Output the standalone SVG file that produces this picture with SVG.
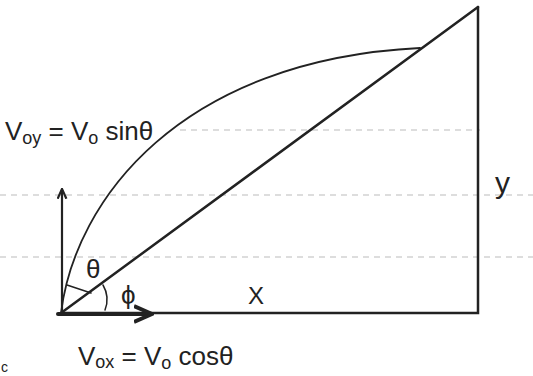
<svg xmlns="http://www.w3.org/2000/svg" width="533" height="376" viewBox="0 0 533 376">
<style>
.t{font-family:"Liberation Sans",Arial,sans-serif;fill:#222}
.ln{stroke:#222;fill:none;stroke-linecap:round}
.rule{stroke:#bbb;stroke-width:1;stroke-dasharray:6 5;fill:none}
</style>
<defs>
<marker id="ah" viewBox="0 0 10 10" refX="8" refY="5" markerWidth="5" markerHeight="5" orient="auto">
<path d="M0,1 L9,5 L0,9" fill="none" stroke="#222" stroke-width="2"/>
</marker>
</defs>
<rect width="533" height="376" fill="#fff"/>
<g id="rules">
<path class="rule" d="M0,195 H533 M0,257 H533"/>
<path class="rule" d="M180,130 H480" stroke-dasharray="3 18"/>
</g>
<g id="connectors">
<path class="ln" stroke-width="2.5" d="M478,7 V313 H61"/>
<path class="ln" stroke-width="2.5" d="M61,313 L478,7"/>
<path class="ln" stroke-width="1.8" d="M61,313 C75,200 180,60 420,48"/>
<path class="ln" stroke-width="2.2" d="M62,313 V190" marker-end="url(#ah)"/>
<path class="ln" stroke-width="4" d="M58,314 H150" marker-end="url(#ah)"/>
<path class="ln" stroke-width="1.5" d="M67,285 L91,293"/>
<path class="ln" stroke-width="1.5" d="M103,285 Q110,297 105,310"/>
</g>
<g id="labels">
<text class="t" x="5" y="140" font-size="26">V<tspan font-size="18" dy="4">oy</tspan><tspan dy="-4"> = V</tspan><tspan font-size="18" dy="4">o</tspan><tspan dy="-4"> sinθ</tspan></text>
<text class="t" x="495" y="193" font-size="30">y</text>
<text class="t" x="86" y="278" font-size="26">θ</text>
<text class="t" x="121" y="304" font-size="26">ϕ</text>
<text class="t" x="248" y="304" font-size="24">X</text>
<text class="t" x="78" y="365" font-size="26">V<tspan font-size="18" dy="3">ox</tspan><tspan dy="-3"> =  V</tspan><tspan font-size="18" dy="4">o</tspan><tspan dy="-4"> cosθ</tspan></text>
<text class="t" x="1" y="372" font-size="14">c</text>
</g>
</svg>
